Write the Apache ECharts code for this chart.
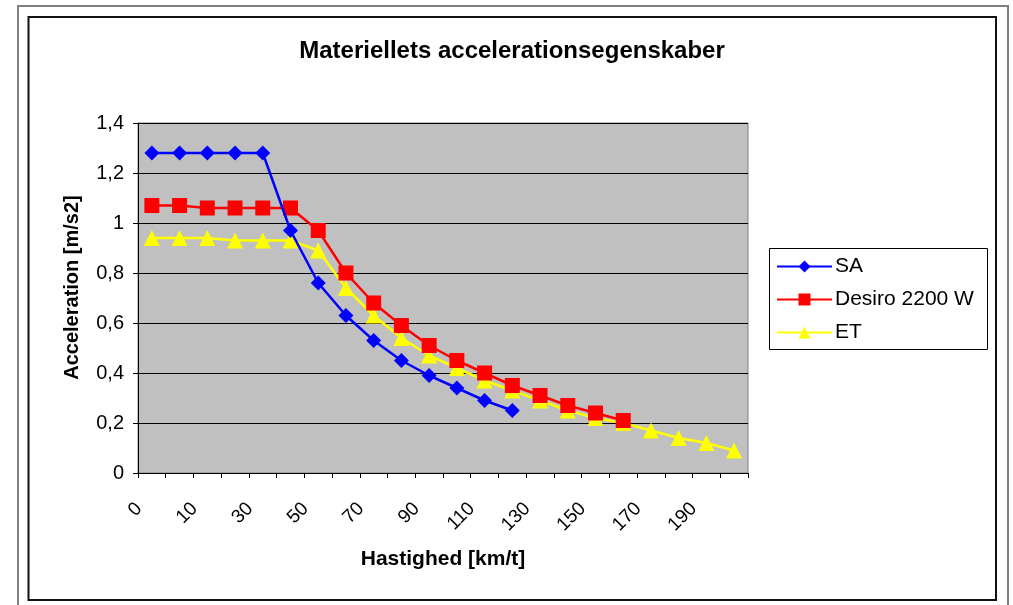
<!DOCTYPE html>
<html>
<head>
<meta charset="utf-8">
<script src="https://cdn.jsdelivr.net/npm/echarts@6/dist/echarts.min.js"></script>
<style>
  html, body { margin: 0; padding: 0; background: #fff; }
  #chart { width: 1013px; height: 605px; }
</style>
</head>
<body>
<div id="chart"></div>
<script>
// speed categories (km/t)
var categories = ['0', '5', '10', '20', '30', '40', '50', '60', '70', '80', '90', '100',
  '110', '120', '130', '140', '150', '160', '170', '180', '190', '200']

// acceleration (m/s2)
var sa = [1.28, 1.28, 1.28, 1.28, 1.28, 0.97, 0.76, 0.63, 0.53, 0.45, 0.39, 0.34, 0.29, 0.25]
var desiro = [1.07, 1.07, 1.06, 1.06, 1.06, 1.06, 0.97, 0.80, 0.68, 0.59, 0.51, 0.45,
  0.40, 0.35, 0.31, 0.27, 0.24, 0.21]
var et = [0.94, 0.94, 0.94, 0.93, 0.93, 0.93, 0.89, 0.74, 0.63, 0.54, 0.47, 0.42,
  0.37, 0.33, 0.29, 0.25, 0.22, 0.20, 0.17, 0.14, 0.12, 0.09]

var seriesNames = ['SA', 'Desiro 2200 W', 'ET']

var font = 'Liberation Sans, Arial, sans-serif'

var chart = echarts.init(document.getElementById('chart'))

chart.setOption({
  animation: false,
  backgroundColor: '#fff',
  color: ['#0000FF', '#FF0000', '#FFFF00'],
  title: {
    text: 'Materiellets accelerationsegenskaber',
    left: 507,
    textAlign: 'center',
    top: 34,
    textStyle: {
      fontFamily: font,
      fontSize: 24,
      fontWeight: 'bold',
      color: '#000'
    }
  },
  graphic: [
    {
      type: 'rect',
      shape: { x: 18, y: 6, width: 990, height: 640 },
      style: { fill: 'none', stroke: '#808080', lineWidth: 2 },
      silent: true
    },
    {
      type: 'rect',
      shape: { x: 28.5, y: 17, width: 967.5, height: 583 },
      style: { fill: 'none', stroke: '#111', lineWidth: 2 },
      silent: true
    },
    {
      type: 'rect',
      shape: { x: 769.5, y: 248.5, width: 218, height: 101 },
      style: { fill: '#fff', stroke: '#000', lineWidth: 1 },
      silent: true
    }
  ],
  legend: {
    orient: 'vertical',
    left: 770,
    top: 256,
    itemWidth: 55,
    itemHeight: 15,
    itemGap: 12,
    padding: [0, 0, 0, 6],
    data: seriesNames,
    textStyle: {
      fontFamily: font,
      fontSize: 21,
      color: '#000',
      padding: [0, 0, 0, -2]
    }
  },
  grid: {
    left: 138,
    top: 123,
    width: 610,
    height: 350,
    show: true,
    backgroundColor: '#C0C0C0',
    borderColor: '#808080',
    borderWidth: 1
  },
  xAxis: {
    type: 'category',
    data: categories,
    boundaryGap: true,
    name: 'Hastighed [km/t]',
    nameLocation: 'middle',
    nameGap: 76,
    nameTextStyle: {
      fontFamily: font,
      fontSize: 21,
      fontWeight: 'bold',
      color: '#000'
    },
    axisLine: {
      lineStyle: { color: '#000', width: 1 }
    },
    axisTick: {
      show: true,
      interval: 0,
      length: 5,
      lineStyle: { color: '#000' }
    },
    axisLabel: {
      interval: 1,
      rotate: 45,
      margin: 20,
      padding: [0, 18, 0, 0],
      fontFamily: font,
      fontSize: 19,
      color: '#000'
    },
    splitLine: { show: false }
  },
  yAxis: {
    type: 'value',
    min: 0,
    max: 1.4,
    interval: 0.2,
    name: 'Acceleration [m/s2]',
    nameLocation: 'middle',
    nameGap: 56,
    nameTextStyle: {
      fontFamily: font,
      fontSize: 20,
      fontWeight: 'bold',
      color: '#000',
      padding: [0, 0, 0, 21]
    },
    axisLine: {
      show: true,
      lineStyle: { color: '#000', width: 1 }
    },
    axisTick: {
      show: true,
      length: 5,
      lineStyle: { color: '#000' }
    },
    axisLabel: {
      margin: 14,
      fontFamily: font,
      fontSize: 20,
      color: '#000',
      formatter: function(v) {
        return String(Math.round(v * 10) / 10).replace('.', ',')
      }
    },
    splitLine: {
      lineStyle: { color: '#000', width: 1 }
    }
  },
  series: [
    {
      name: seriesNames[0],
      type: 'line',
      data: sa,
      symbol: 'diamond',
      symbolSize: 15,
      lineStyle: { width: 2.5 },
      z: 4
    },
    {
      name: seriesNames[1],
      type: 'line',
      data: desiro,
      symbol: 'rect',
      symbolSize: 15,
      lineStyle: { width: 2.5 },
      z: 3
    },
    {
      name: seriesNames[2],
      type: 'line',
      data: et,
      symbol: 'triangle',
      symbolSize: 16,
      lineStyle: { width: 2.5 },
      z: 2
    }
  ]
})
</script>
</body>
</html>
